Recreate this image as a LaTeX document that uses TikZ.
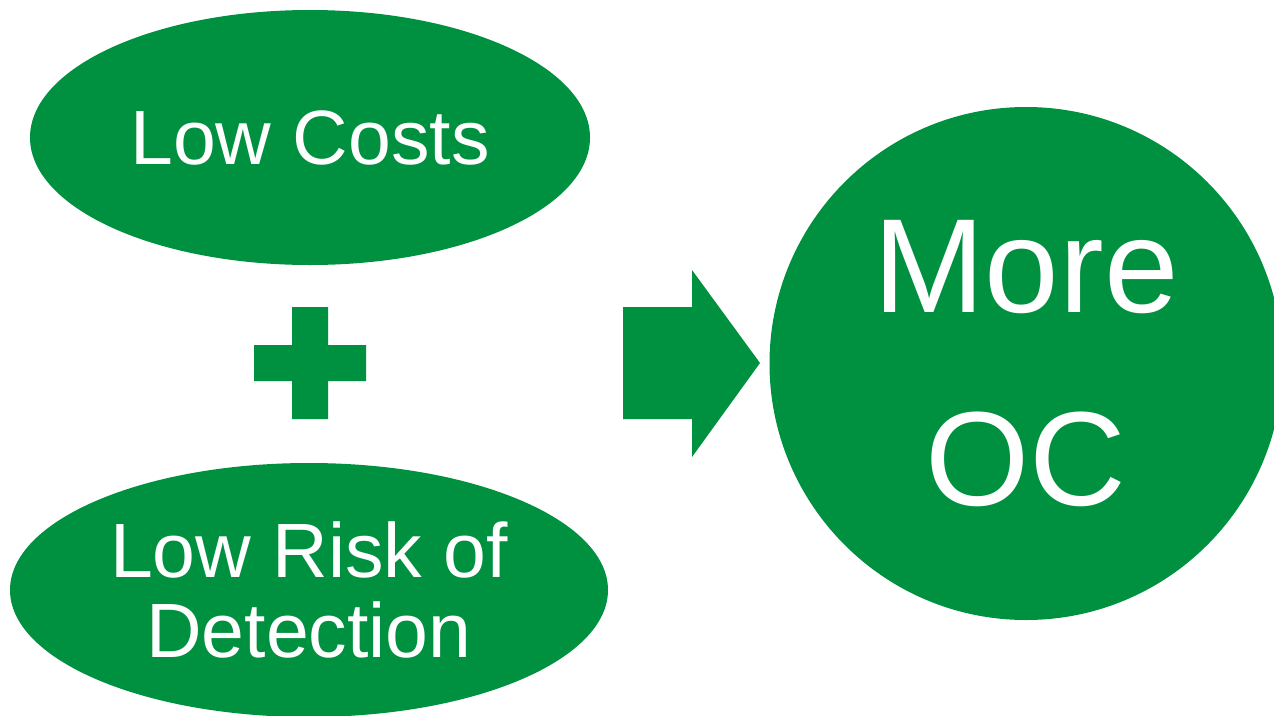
\documentclass[tikz,border=0pt]{standalone}
\usepackage{fontspec}
\setmainfont{Liberation Sans}
\usetikzlibrary{shapes.geometric,positioning}
\definecolor{ocgreen}{RGB}{0,145,64}
\tikzset{
  blob/.style={ellipse, fill=ocgreen, inner sep=0pt, text=white, align=center},
  smalltext/.style={font=\fontsize{77}{80}\selectfont},
  bigtext/.style={font=\fontsize{134}{193}\selectfont}
}

\begin{document}
\begin{tikzpicture}[x=1pt, y=-1pt]
    \useasboundingbox (0,0) rectangle (1274,715);

    % Ellipses on the left
    \node (costs) at (310,137.5) [blob, smalltext, minimum width=560pt, minimum height=255pt] {Low Costs};
    \node (risk) at (309,590) [blob, smalltext, minimum width=598pt, minimum height=254pt] {Low Risk of\\Detection};

    % Plus sign
    \fill [ocgreen] (254,345) -- (292,345) -- (292,307) -- (328,307) -- (328,345) -- (366,345)
        -- (366,381) -- (328,381) -- (328,419) -- (292,419) -- (292,381) -- (254,381) -- cycle;

    % Block arrow
    \fill [ocgreen] (623,307) -- (692,307) -- (692,270) -- (760,363) -- (692,457) -- (692,419) -- (623,419) -- cycle;

    % Result circle
    \node (result) at (1026,363.5) [blob, circle, bigtext, minimum size=513pt] {More\\OC};
\end{tikzpicture}
\end{document}
